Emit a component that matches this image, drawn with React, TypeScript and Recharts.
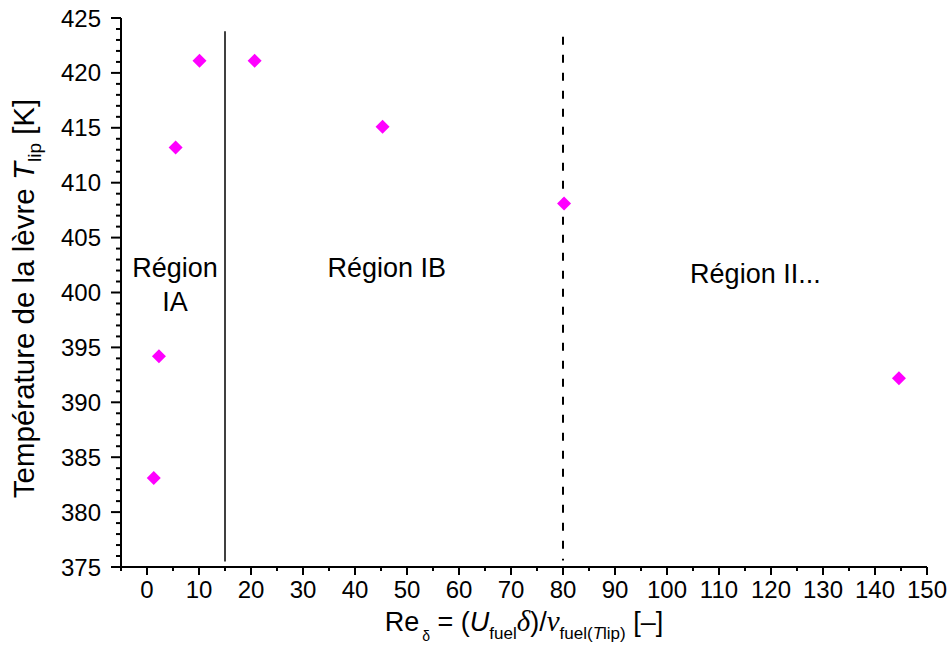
import React from "react";
import {
  ScatterChart,
  Scatter,
  XAxis,
  YAxis,
  ReferenceLine,
  ReferenceDot,
} from "recharts";

// Re_delta values and lip temperatures
const reynolds = [1.3, 2.3, 5.5, 10.1, 20.7, 45.3, 80.2, 144.6];
const lipTemp = [383.1, 394.2, 413.2, 421.1, 421.1, 415.1, 408.1, 392.2];

const xMajorTicks = [0, 10, 20, 30, 40, 50, 60, 70, 80, 90, 100, 110, 120, 130, 140, 150];
const yMajorTicks = [375, 380, 385, 390, 395, 400, 405, 410, 415, 420, 425];

// region boundaries: [x, yTop, yBottom]
const solidBoundary = [15, 423.8, 375.5];
const dashedBoundary = [80, 423.3, 375.6];

const regionText = ["Région", "IA", "Région IB", "Région II..."];
const regionX = [5.4, 5.4, 46.1, 117];
const regionY = [402.3, 399.2, 402.3, 401.7];

const FONT = "'Liberation Sans', Arial, sans-serif";

const data = reynolds.map((re, i) => ({ re, t: lipTemp[i] }));

// minor ticks every 5 on x (from -5), every 1 on y
const xTicks: number[] = [];
for (let v = -5; v <= 150; v += 5) xTicks.push(v);
const yTicks: number[] = [];
for (let v = 375; v <= 425; v += 1) yTicks.push(v);

function Diamond(props: any) {
  const { cx, cy } = props;
  const h = 7;
  return (
    <polygon
      points={`${cx},${cy - h} ${cx + h},${cy} ${cx},${cy + h} ${cx - h},${cy}`}
      fill="#ff00ff"
    />
  );
}

function XTick(props: any) {
  const { x, y, payload } = props;
  const major = xMajorTicks.includes(payload.value);
  const len = major ? 8 : 4;
  return (
    <g>
      <line x1={x} x2={x} y1={y} y2={y + len} stroke="#000" strokeWidth={2} />
      {major && (
        <text x={x} y={y + 31} textAnchor="middle" fontSize={24} fontFamily={FONT} fill="#000">
          {payload.value}
        </text>
      )}
    </g>
  );
}

function YTick(props: any) {
  const { x, y, payload } = props;
  const major = yMajorTicks.includes(payload.value);
  const len = major ? 10 : 5;
  return (
    <g>
      <line x1={x - len} x2={x} y1={y} y2={y} stroke="#000" strokeWidth={2} />
      {major && (
        <text x={x - 20} y={y + 8.5} textAnchor="end" fontSize={24} fontFamily={FONT} fill="#000">
          {payload.value}
        </text>
      )}
    </g>
  );
}

function XLabel(props: any) {
  const vb = props.viewBox;
  const cx = vb.x + vb.width / 2;
  const by = vb.y + 64;
  return (
    <text x={cx} y={by} textAnchor="middle" fontSize={27} fontFamily={FONT} fill="#000">
      Re
      <tspan fontSize={14} dy={10} dx={3}>δ</tspan>
      <tspan dy={-10}> = (</tspan>
      <tspan fontStyle="italic">U</tspan>
      <tspan fontSize={17} dy={8}>fuel</tspan>
      <tspan dy={-8} fontStyle="italic" fontFamily="'Liberation Serif', serif" fontSize={29}>δ</tspan>
      <tspan>)/</tspan>
      <tspan fontStyle="italic" fontFamily="'Liberation Serif', serif" fontSize={29}>ν</tspan>
      <tspan fontSize={17} dy={8}>fuel(</tspan>
      <tspan fontSize={17} fontStyle="italic">T</tspan>
      <tspan fontSize={17}>lip)</tspan>
      <tspan dy={-8}> [–]</tspan>
    </text>
  );
}

function YLabel(props: any) {
  const vb = props.viewBox;
  const cy = vb.y + vb.height / 2 + 6;
  const bx = 34;
  return (
    <text
      x={bx}
      y={cy}
      transform={`rotate(-90, ${bx}, ${cy})`}
      textAnchor="middle"
      fontSize={29.5}
      fontFamily={FONT}
      fill="#000"
    >
      Température de la lèvre{" "}
      <tspan fontStyle="italic">T</tspan>
      <tspan fontSize={19} dy={7}>lip</tspan>
      <tspan dy={-7}> [K]</tspan>
    </text>
  );
}

export default function App() {
  return (
    <div style={{ position: "absolute", left: 0, top: 0, background: "#fff" }}>
      <ScatterChart
        width={947}
        height={654}
        margin={{ top: 18, right: 20, bottom: 0, left: 0 }}
      >
        <XAxis
          type="number"
          dataKey="re"
          domain={[-5, 150]}
          ticks={xTicks}
          interval={0}
          tick={<XTick />}
          tickLine={false}
          tickSize={0}
          tickMargin={0}
          axisLine={{ stroke: "#000", strokeWidth: 2 }}
          height={87}
          label={<XLabel />}
        />
        <YAxis
          type="number"
          dataKey="t"
          domain={[375, 425]}
          ticks={yTicks}
          interval={0}
          tick={<YTick />}
          tickLine={false}
          tickSize={0}
          tickMargin={0}
          axisLine={{ stroke: "#000", strokeWidth: 2 }}
          width={121}
          label={<YLabel />}
        />
        <ReferenceLine
          segment={[
            { x: solidBoundary[0], y: solidBoundary[1] },
            { x: solidBoundary[0], y: solidBoundary[2] },
          ]}
          stroke="#000"
          strokeWidth={1.5}
        />
        <ReferenceLine
          segment={[
            { x: dashedBoundary[0], y: dashedBoundary[1] },
            { x: dashedBoundary[0], y: dashedBoundary[2] },
          ]}
          stroke="#000"
          strokeWidth={2}
          strokeDasharray="8 10"
        />
        {regionText.map((txt, i) => (
          <ReferenceDot
            key={i}
            x={regionX[i]}
            y={regionY[i]}
            r={0}
            fill="none"
            stroke="none"
            label={{ value: txt, position: "center", fontSize: 27, fill: "#000", fontFamily: FONT }}
          />
        ))}
        <Scatter data={data} shape={<Diamond />} isAnimationActive={false} />
      </ScatterChart>
    </div>
  );
}
